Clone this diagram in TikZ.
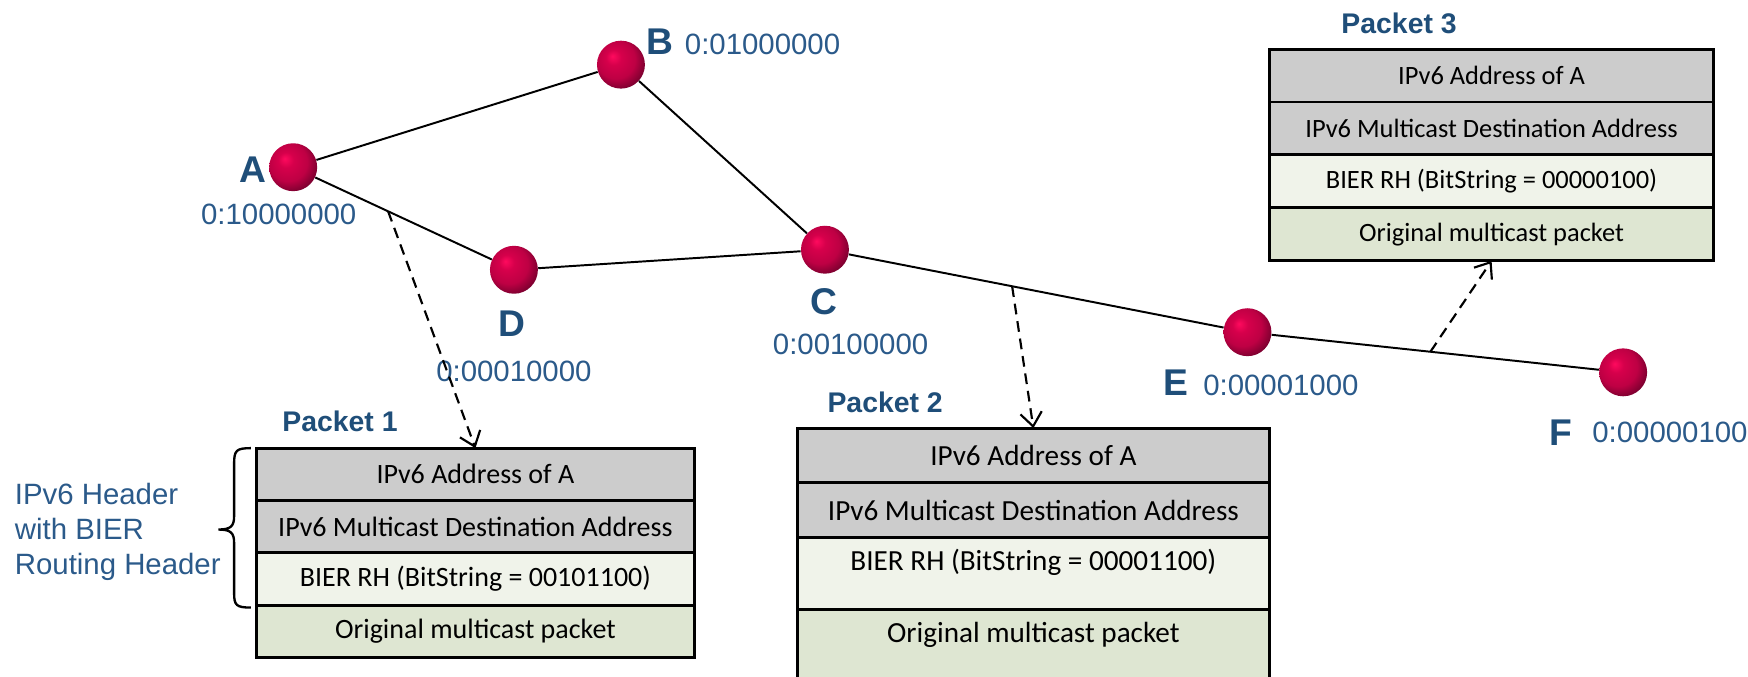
\documentclass[tikz,border=0pt]{standalone}
\usepackage{fontspec}
\setmainfont{Liberation Sans}
\newfontfamily\boxfont{Carlito}
\usepackage{xcolor}
\usepackage{tikz}
\usetikzlibrary{arrows.meta,calc}
\definecolor{navy}{HTML}{1F4E79}
\definecolor{numblue}{HTML}{2B5A8A}
\definecolor{hdrgray}{HTML}{CCCCCC}
\definecolor{rhfill}{HTML}{F0F3EA}
\definecolor{payfill}{HTML}{DEE6D2}
\definecolor{balltop}{HTML}{FF0A5E}
\definecolor{ballmid}{HTML}{D6004B}
\definecolor{balldark}{HTML}{5E0026}
\pgfdeclareradialshading{redball}{\pgfpoint{-9bp}{9bp}}{color(0bp)=(balltop); color(8bp)=(ballmid); color(20bp)=(ballmid!80!balldark); color(34bp)=(balldark); color(50bp)=(balldark)}
\tikzset{
  link/.style={line width=1pt, draw=black},
  trace/.style={-{Straight Barb[length=7pt,width=11pt]}, line width=1.1pt, dash pattern=on 5.5pt off 3.5pt},
  router/.style={circle, minimum size=0.86cm, inner sep=0pt, shading=redball},
  rname/.style={font=\fontsize{19}{19}\selectfont\bfseries, text=navy},
  rbits/.style={font=\fontsize{15}{15}\selectfont, text=numblue},
  pktname/.style={font=\fontsize{14.5}{14.5}\selectfont\bfseries, text=navy},
  note/.style={font=\fontsize{15}{18}\selectfont, text=numblue, align=left, anchor=west, inner sep=0pt},
  row/.style={draw=black, line width=1.5pt, anchor=north west, inner sep=0pt, outer sep=0pt}
}
\newcommand{\DrawPacket}[8]{% name, top left, width, upper row h, lower row h, bitstring, font size, lower text depth
  \begin{scope}[every node/.append style={font=\boxfont\fontsize{#7}{#7}\selectfont}]
  \node[row, fill=hdrgray, minimum width=#3, minimum height=#4] (#1a) at #2 {IPv6 Address of A};
  \node[row, fill=hdrgray, minimum width=#3, minimum height=#4] (#1b) at (#1a.south west) {IPv6 Multicast Destination Address};
  \node[row, fill=rhfill, minimum width=#3, minimum height=#5, text depth=#8] (#1c) at (#1b.south west) {BIER RH (BitString = #6)};
  \node[row, fill=payfill, minimum width=#3, minimum height=#5, text depth=#8] (#1d) at (#1c.south west) {Original multicast packet};
  \end{scope}
}

\begin{document}
\begin{tikzpicture}[x=0.02cm, y=-0.02cm]
  \useasboundingbox (0,0) rectangle (1568,607);
  % routers
  \node[router] (A) at (263,150) {};
  \node[router] (B) at (557,58) {};
  \node[router] (C) at (740,224) {};
  \node[router] (D) at (461,242) {};
  \node[router] (E) at (1119,298) {};
  \node[router] (F) at (1456,334) {};
  \draw[link] (A) -- (B) (A) -- (D) (B) -- (C) (D) -- (C) (C) -- (E) (E) -- (F);
  % names and bit positions
  \node[rname] (nA) at (227,152) {A};
  \node[rname] (nB) at (592,37) {B};
  \node[rname] (nC) at (739,271) {C};
  \node[rname] (nD) at (459,290) {D};
  \node[rname] (nE) at (1055,343) {E};
  \node[rname] (nF) at (1400,388) {F};
  \node[rbits] (bA) at (250,192) {0:10000000};
  \node[rbits] (bB) at (684,40) {0:01000000};
  \node[rbits] (bC) at (763,309) {0:00100000};
  \node[rbits] (bD) at (461,333) {0:00010000};
  \node[rbits] (bE) at (1149,346) {0:00001000};
  \node[rbits] (bF) at (1498,388) {0:00000100};
  % packets
  \node[pktname] (t1) at (305,378) {Packet 1};
  \node[pktname] (t2) at (794,361) {Packet 2};
  \node[pktname] (t3) at (1255,21) {Packet 3};
  \DrawPacket{p1}{(230,402)}{7.86cm}{0.94cm}{0.94cm}{00101100}{14.3}{2.5pt}
  \DrawPacket{p2}{(715,384)}{8.48cm}{0.98cm}{1.29cm}{00001100}{14.9}{0.36cm+3pt}
  \DrawPacket{p3}{(1139,44)}{7.96cm}{0.95cm}{0.95cm}{00000100}{13.5}{2.5pt}
  % header brace
  \draw[line width=1.2pt] (225,402) .. controls (212,402) and (210,404) .. (210,416) -- (210,463)
    .. controls (210,472) and (207,475) .. (196,475) .. controls (207,475) and (210,478) .. (210,487)
    -- (210,532) .. controls (210,543) and (212,545) .. (225,545);
  \node[note] (hdr) at (13,477) {IPv6 Header\\with BIER\\Routing Header};
  % copies on the wire
  \coordinate (w1) at ($(A)!0.43!(D)$);
  \coordinate (w2) at ($(C)!0.443!(E)$);
  \coordinate (w3) at ($(E)!0.487!(F)$);
  \draw[trace] (w1) -- (p1a.north);
  \draw[trace] (w2) -- (p2a.north);
  \draw[trace] (w3) -- (p3d.south);
\end{tikzpicture}
\end{document}
